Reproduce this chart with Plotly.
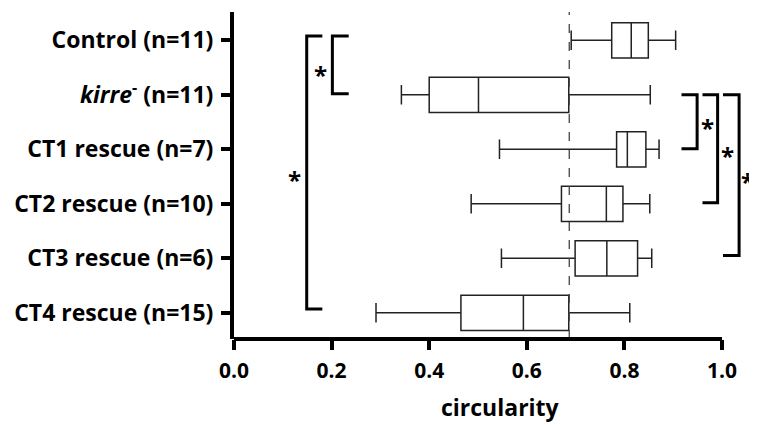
import plotly.graph_objects as go

categories = ["Control (n=11)", "<i>kirre</i><sup>-</sup> (n=11)", "CT1 rescue (n=7)",
              "CT2 rescue (n=10)", "CT3 rescue (n=6)", "CT4 rescue (n=15)"]
positions = [0, 1, 2, 3, 4, 5]
lower = [0.691, 0.343, 0.544, 0.486, 0.548, 0.291]
q1 = [0.774, 0.400, 0.784, 0.671, 0.699, 0.465]
median = [0.814, 0.501, 0.806, 0.763, 0.764, 0.593]
q3 = [0.849, 0.686, 0.844, 0.797, 0.827, 0.686]
upper = [0.905, 0.853, 0.871, 0.852, 0.856, 0.811]
threshold = 0.687
xticks = [0.0, 0.2, 0.4, 0.6, 0.8, 1.0]
xticklabels = ["0.0", "0.2", "0.4", "0.6", "0.8", "1.0"]
xtitle = "circularity"

# significance brackets: (x_vertical, x_tick_end, y_top, y_bottom, star_x, star_y)
left_brackets = [(0.149, 0.181, -0.08, 4.93, 0.123, 2.47),
                 (0.2016, 0.235, -0.08, 0.98, 0.178, 0.53)]
right_brackets = [(0.949, 0.917, 1.0, 1.99, 0.971, 1.51),
                  (0.991, 0.960, 1.0, 2.98, 1.012, 2.03),
                  (1.035, 1.002, 1.0, 3.95, 1.053, 2.49)]

FONT = "Open Sans"
XMAX = 1.0717

fig = go.Figure()
fig.add_trace(go.Box(
    y=positions, q1=q1, median=median, q3=q3,
    lowerfence=lower, upperfence=upper,
    orientation="h", width=0.65, whiskerwidth=0.55,
    fillcolor="white", line=dict(color="#222222", width=1.5),
    boxpoints=False, showlegend=False, hoverinfo="skip"))

shapes = []
shapes.append(dict(type="line", xref="x", yref="paper", x0=threshold, x1=threshold,
                   y0=0, y1=1, line=dict(color="#444444", width=1.3, dash="dash")))
shapes.append(dict(type="line", xref="paper", yref="paper", x0=0, x1=1.0 / XMAX,
                   y0=0, y1=0, line=dict(color="black", width=4)))
for (xv, xt, yt, yb, sx, sy) in left_brackets + right_brackets:
    shapes.append(dict(type="path", xref="x", yref="y",
                       path=f"M {xt} {yt} L {xv} {yt} L {xv} {yb} L {xt} {yb}",
                       line=dict(color="black", width=3)))

annotations = []
for (xv, xt, yt, yb, sx, sy) in left_brackets + right_brackets:
    annotations.append(dict(x=sx, y=sy, xref="x", yref="y", text="<b>*</b>",
                            showarrow=False, font=dict(family=FONT, size=24, color="black"),
                            xanchor="center", yanchor="middle", yshift=-5))
annotations.append(dict(x=0.5105, y=-0.208, xref="paper", yref="paper", text=f"<b>{xtitle}</b>",
                        showarrow=False, font=dict(family=FONT, size=23, color="black"),
                        xanchor="center", yanchor="middle"))

# the page body has an 8px default margin, so the figure is sized to fit the window
fig.update_layout(
    width=749, height=417,
    margin=dict(l=226, r=0, t=4, b=86),
    plot_bgcolor="white", paper_bgcolor="white",
    shapes=shapes, annotations=annotations,
    font=dict(family=FONT, color="black"),
    xaxis=dict(range=[0, XMAX], tickvals=xticks, ticktext=xticklabels,
               ticks="outside", ticklen=10, tickwidth=3.5, tickcolor="black",
               ticklabelstandoff=3,
               showline=False, showgrid=False, zeroline=False,
               tickfont=dict(family=FONT, size=21, color="black", weight="bold")),
    yaxis=dict(range=[5.48, -0.52], tickvals=positions, ticktext=categories,
               ticks="outside", ticklen=9, tickwidth=3.5, tickcolor="black",
               ticklabelstandoff=3,
               showline=True, linewidth=4, linecolor="black",
               showgrid=False, zeroline=False,
               tickfont=dict(family=FONT, size=23, color="black", weight="bold")),
)

fig.write_html("out.html")
